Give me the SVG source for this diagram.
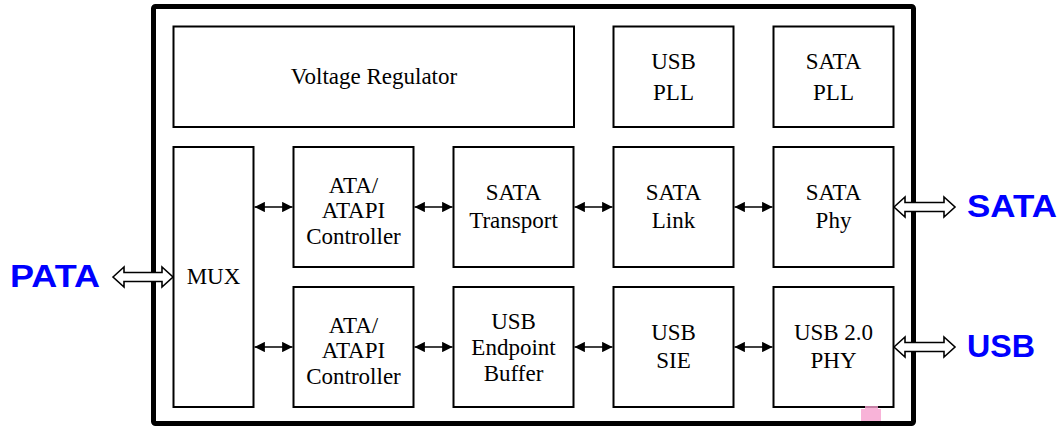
<svg xmlns="http://www.w3.org/2000/svg" width="1063" height="427" viewBox="0 0 1063 427">
<defs>
<style>
.box{fill:#fff;stroke:#000;stroke-width:2}
.t{font-family:"Liberation Serif","Times New Roman",serif;font-size:23px;fill:#000;text-anchor:middle}
.lbl{font-family:"Liberation Sans",Arial,sans-serif;font-size:31px;font-weight:bold;fill:#0000ff}
.con{stroke:#000;stroke-width:1.6;fill:none;marker-start:url(#ah);marker-end:url(#ah)}
.hol{fill:#fff;stroke:#000;stroke-width:1.6;stroke-linejoin:miter}
</style>
<marker id="ah" viewBox="0 0 10 10" refX="10" refY="5" markerWidth="6.5" markerHeight="6.5" orient="auto-start-reverse" markerUnits="strokeWidth">
<path d="M0,0 L10,5 L0,10 z" fill="#000"/>
</marker>
</defs>
<rect x="0" y="0" width="1063" height="427" fill="#fff"/>
<rect id="chip" x="153.5" y="6.5" width="760" height="417" rx="2" fill="none" stroke="#000" stroke-width="5"/>

<g id="vreg"><rect class="box" x="173.5" y="26.5" width="400.5" height="100.5"/><text class="t" x="374" y="84">Voltage Regulator</text></g>
<g id="usbpll"><rect class="box" x="613.5" y="26.5" width="120" height="100.5"/><text class="t" x="673.5" y="69">USB</text><text class="t" x="673.5" y="100">PLL</text></g>
<g id="satapll"><rect class="box" x="773.5" y="26.5" width="120" height="100.5"/><text class="t" x="833.5" y="69">SATA</text><text class="t" x="833.5" y="100">PLL</text></g>

<g id="mux"><rect class="box" x="173.5" y="147" width="80" height="260"/><text class="t" x="213.5" y="284">MUX</text></g>

<g id="ata1"><rect class="box" x="293.5" y="147" width="120" height="120"/><text class="t" x="353.5" y="193">ATA/</text><text class="t" x="353.5" y="218">ATAPI</text><text class="t" x="353.5" y="244">Controller</text></g>
<g id="satatrans"><rect class="box" x="453.5" y="147" width="120" height="120"/><text class="t" x="513.5" y="200">SATA</text><text class="t" x="513.5" y="228">Transport</text></g>
<g id="satalink"><rect class="box" x="613.5" y="147" width="120" height="120"/><text class="t" x="673.5" y="200">SATA</text><text class="t" x="673.5" y="228">Link</text></g>
<g id="sataphy"><rect class="box" x="773.5" y="147" width="120" height="120"/><text class="t" x="833.5" y="200">SATA</text><text class="t" x="833.5" y="228">Phy</text></g>

<g id="ata2"><rect class="box" x="293.5" y="287" width="120" height="120"/><text class="t" x="353.5" y="333">ATA/</text><text class="t" x="353.5" y="358">ATAPI</text><text class="t" x="353.5" y="384">Controller</text></g>
<g id="usbep"><rect class="box" x="453.5" y="287" width="120" height="120"/><text class="t" x="513.5" y="329">USB</text><text class="t" x="513.5" y="355">Endpoint</text><text class="t" x="513.5" y="381">Buffer</text></g>
<g id="usbsie"><rect class="box" x="613.5" y="287" width="120" height="120"/><text class="t" x="673.5" y="340">USB</text><text class="t" x="673.5" y="368">SIE</text></g>
<g id="usbphy"><rect class="box" x="773.5" y="287" width="120" height="120"/><text class="t" x="833.5" y="340">USB 2.0</text><text class="t" x="833.5" y="368">PHY</text></g>

<g id="connectors">
<line class="con" x1="254.5" y1="207" x2="292.5" y2="207"/>
<line class="con" x1="414.5" y1="207" x2="452.5" y2="207"/>
<line class="con" x1="574.5" y1="207" x2="612.5" y2="207"/>
<line class="con" x1="734.5" y1="207" x2="772.5" y2="207"/>
<line class="con" x1="254.5" y1="347" x2="292.5" y2="347"/>
<line class="con" x1="414.5" y1="347" x2="452.5" y2="347"/>
<line class="con" x1="574.5" y1="347" x2="612.5" y2="347"/>
<line class="con" x1="734.5" y1="347" x2="772.5" y2="347"/>
<path class="hol" d="M113,277 L124,267 L124,272.5 L162,272.5 L162,267 L173,277 L162,287 L162,281.5 L124,281.5 L124,287 Z"/>
<path class="hol" d="M894,207 L905,197 L905,202.5 L944,202.5 L944,197 L955,207 L944,217 L944,211.5 L905,211.5 L905,217 Z"/>
<path class="hol" d="M894,347 L905,337 L905,342.5 L944,342.5 L944,337 L955,347 L944,357 L944,351.5 L905,351.5 L905,357 Z"/>
</g>

<g id="labels">
<text class="lbl" x="10" y="287" textLength="90" lengthAdjust="spacingAndGlyphs">PATA</text>
<text class="lbl" x="967" y="217" textLength="90" lengthAdjust="spacingAndGlyphs">SATA</text>
<text class="lbl" x="967" y="357" textLength="68" lengthAdjust="spacingAndGlyphs">USB</text>
</g>

<g id="mark" fill="#f7a1cf" opacity="0.8">
<rect x="861" y="409" width="20" height="12"/>
<rect x="865" y="406" width="13" height="4"/>
</g>
</svg>
